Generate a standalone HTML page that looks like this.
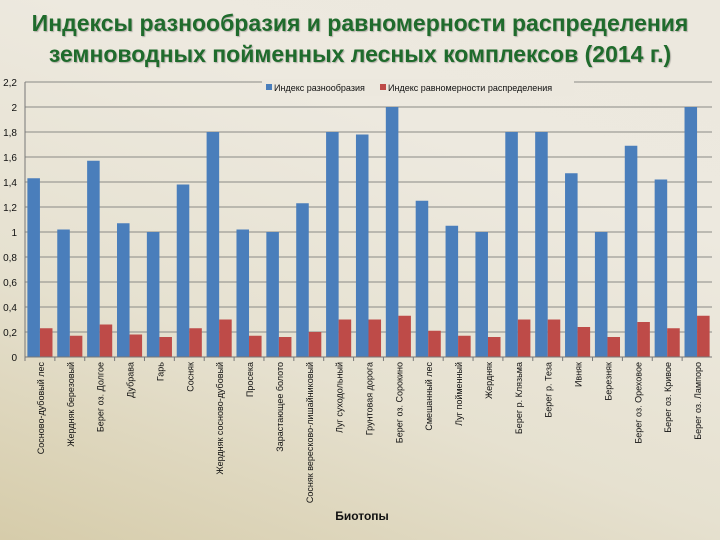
<!DOCTYPE html>
<html><head><meta charset="utf-8"><style>
body{margin:0;width:720px;height:540px;overflow:hidden;background:linear-gradient(20deg,#d6ccaa 0%,#e6e1d0 35%,#ede9df 70%,#ece8de 100%);font-family:"Liberation Sans","DejaVu Sans",sans-serif}
#title{position:absolute;left:0;top:8px;width:720px;text-align:center;white-space:nowrap;font:bold 23px/31px "Liberation Sans","DejaVu Sans",sans-serif;color:#1f6b2c;text-shadow:1px 1px 1px rgba(0,0,0,.25)}
</style></head><body>
<div id="title">Индексы разнообразия и равномерности распределения<br>земноводных пойменных лесных комплексов (2014 г.)</div>
<svg id="chart" width="720" height="540" style="position:absolute;left:0;top:0"></svg>
<script>
const categories=["Сосново-дубовый лес","Жердняк березовый","Берег оз. Долгое","Дубрава","Гарь","Сосняк","Жердняк сосново-дубовый","Просека","Зарастающее болото","Сосняк вересково-лишайниковый","Луг суходольный","Грунтовая дорога","Берег оз. Сорокино","Смешанный лес","Луг пойменный","Жердняк","Берег р. Клязьма","Берег р. Теза","Ивняк","Березняк","Берег оз. Ореховое","Берег оз. Кривое","Берег оз. Лампоро"];
const diversity=[1.43,1.02,1.57,1.07,1.0,1.38,1.8,1.02,1.0,1.23,1.8,1.78,2.0,1.25,1.05,1.0,1.8,1.8,1.47,1.0,1.69,1.42,2.0];
const evenness=[0.23,0.17,0.26,0.18,0.16,0.23,0.3,0.17,0.16,0.2,0.3,0.3,0.33,0.21,0.17,0.16,0.3,0.3,0.24,0.16,0.28,0.23,0.33];
const yTicks=[0,0.2,0.4,0.6,0.8,1,1.2,1.4,1.6,1.8,2,2.2];
const tickLabels=["0","0,2","0,4","0,6","0,8","1","1,2","1,4","1,6","1,8","2","2,2"];
const NS="http://www.w3.org/2000/svg";
const svg=document.getElementById('chart');
const L=25,R=712,T=82,B=357;
const y=v=>B-(v/2.2)*(B-T);
const band=(R-L)/categories.length;
const x=i=>L+i*band;
function mk(t,a){const e=document.createElementNS(NS,t);for(const k in a)e.setAttribute(k,a[k]);svg.appendChild(e);return e;}
yTicks.forEach((v,i)=>{
 const g=mk('line',{x1:L,x2:R,y1:y(v),y2:y(v),stroke:'#8a8a86','stroke-width':1});
 
 
 const t=mk('text',{x:L-8,y:y(v)+4,'text-anchor':'end','font-size':10,fill:'#111'});
 t.textContent=tickLabels[i];
 
 
});
const ax=mk('line',{x1:L,x2:L,y1:T,y2:B,stroke:'#777'});


categories.forEach((c,i)=>{
 const bw=band*0.42, x0=x(i)+band*0.08;
 const b=mk('rect',{x:x0,y:y(diversity[i]),width:bw,height:B-y(diversity[i]),fill:'#4a7ebb'});
 
 
 const r=mk('rect',{x:x0+bw,y:y(evenness[i]),width:bw,height:B-y(evenness[i]),fill:'#be4b48'});
 
 
 const tk=mk('line',{x1:x(i),x2:x(i),y1:B,y2:B+4,stroke:'#777'});
 
 
 const cx=x(i)+band/2+4;
 const t=mk('text',{x:cx,y:362,'text-anchor':'end','font-size':9,fill:'#111',transform:`rotate(-90 ${cx} 362)`});
 t.textContent=c;
 
 
});
const xa=mk('line',{x1:L,x2:R,y1:B,y2:B,stroke:'#777'});


const lg=mk('rect',{x:262,y:79,width:312,height:17,fill:'#ece8de'});


const l1=mk('rect',{x:266,y:84,width:6,height:6,fill:'#4a7ebb'});


const t1=mk('text',{x:274,y:91,'font-size':9,fill:'#111'});t1.textContent='Индекс разнообразия';


const l2=mk('rect',{x:380,y:84,width:6,height:6,fill:'#be4b48'});


const t2=mk('text',{x:388,y:91,'font-size':9,fill:'#111'});t2.textContent='Индекс равномерности распределения';


const xt=mk('text',{x:362,y:520,'text-anchor':'middle','font-size':12,'font-weight':'bold',fill:'#111'});xt.textContent='Биотопы';


</script>
</body></html>
